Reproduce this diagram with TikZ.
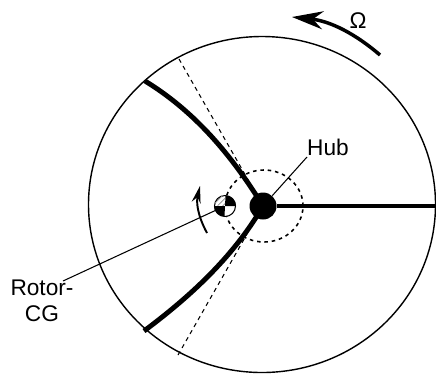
\documentclass[tikz,border=0pt]{standalone}
\usepackage{fontspec}
\setmainfont{Liberation Sans}
\usetikzlibrary{arrows.meta,calc,patterns}

\begin{document}
\begin{tikzpicture}[
		>=Stealth,
		font=\fontsize{12.9}{14.5}\selectfont,
		blade/.style={line width=2.8pt},
		leader/.style={line width=0.6pt},
		spanline/.style={line width=0.6pt, dash pattern=on 2.4pt off 2.2pt},
		label/.style={align=center, inner sep=0pt},
	]
	\useasboundingbox (0, 0) rectangle (8.72, 7.52);

	\draw[line width=0.8pt] (5.24, 3.43) ellipse [x radius=3.47, y radius=3.36];
	\draw[line width=0.9pt, dash pattern=on 2pt off 2.2pt] (5.28, 3.40) ellipse [x radius=0.78, y radius=0.72];

	\node[circle, fill=black, minimum size=0.54cm, inner sep=0pt] (hub) at (5.26, 3.40) {};
	\node[circle, draw, line width=0.6pt, fill=white, minimum size=0.42cm, inner sep=0pt] (cg) at (4.50, 3.40) {};
	\node[label] (hublabel) at (6.56, 4.58) {Hub};
	\node[label] (rotorlabel) at (0.84, 1.50) {Rotor-\\CG};
	\node[label] (omega) at (7.16, 7.10) {Ω};

	\coordinate (uppertip) at (2.90, 5.90);
	\coordinate (lowertip) at (2.88, 0.90);
	\coordinate (righttip) at (8.70, 3.40);
	\coordinate (upperspan) at (3.58, 6.34);
	\coordinate (lowerspan) at (3.56, 0.42);
	\coordinate (hubleader) at (6.14, 4.38);
	\coordinate (cgleader) at (1.26, 1.90);

	% straight reference lines under the blades
	\draw[spanline] (upperspan) -- (hub);
	\draw[spanline] (lowerspan) -- (hub);

	\draw[blade] (hub) -- (righttip);
	\draw[blade] (hub.center) .. controls (4.55, 4.55) and (3.80, 5.35) .. (uppertip);
	\draw[blade] (hub.center) .. controls (4.65, 2.35) and (3.75, 1.55) .. (lowertip);

	\fill (cg.center) -- (cg.east) arc[start angle=0, end angle=90, radius=0.21] -- cycle;
	\fill (cg.center) -- (cg.west) arc[start angle=180, end angle=270, radius=0.21] -- cycle;
	\fill[pattern=north east lines, pattern color=black!45] (cg.center) -- (cg.north) arc[start angle=90, end angle=180, radius=0.21] -- cycle;

	\draw[leader] (hub) -- (hubleader);
	\draw[leader] (cg) -- (cgleader);

	\draw[-{Stealth[length=0.34cm, width=0.18cm]}, line width=1.1pt]
	(4.14, 2.86) .. controls (3.93, 3.25) and (3.93, 3.50) .. (4.00, 3.80);
	\draw[-{Stealth[length=0.62cm, width=0.36cm]}, line width=2pt]
	(7.60, 6.42) .. controls (7.10, 6.85) and (6.60, 7.10) .. (5.84, 7.18);
\end{tikzpicture}
\end{document}
